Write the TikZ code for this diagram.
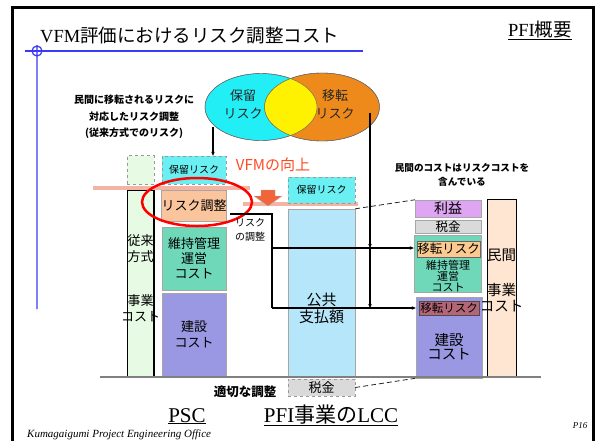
\documentclass[tikz,border=0pt]{standalone}
\usepackage{fontspec}
\setmainfont{Liberation Serif}
\newfontfamily\jp{Noto Sans CJK JP}
\usetikzlibrary{arrows.meta, shapes.geometric}

\definecolor{keepcyan}{HTML}{22EEF6}
\definecolor{xferorange}{HTML}{EE8A1C}
\definecolor{boxcyan}{HTML}{6AF0F2}
\definecolor{adjpeach}{HTML}{FAC49C}
\definecolor{omteal}{HTML}{6ED8B8}
\definecolor{buildblue}{HTML}{9A98E2}
\definecolor{paysky}{HTML}{B6E6FA}
\definecolor{oldgreen}{HTML}{E6FAE4}
\definecolor{taxgray}{HTML}{DADADA}
\definecolor{profitviolet}{HTML}{DEA6F2}
\definecolor{privpeach}{HTML}{FEE6D2}
\definecolor{xferpeach}{HTML}{FCCA90}
\definecolor{xfermauve}{HTML}{B46676}
\definecolor{bandsalmon}{HTML}{F4B4A4}
\definecolor{vfmred}{HTML}{FF4A22}
\definecolor{arroworange}{HTML}{F2643A}
\definecolor{ruleblue}{HTML}{3A3AF4}

\begin{document}
\begin{tikzpicture}[
    x=1pt, y=-1pt,
    cost_box/.style={draw=gray!70, inner sep=0pt, align=center, font=\jp\fontsize{13}{15}\selectfont},
    dash_box/.style={cost_box, dashed, draw=gray!80},
    label_style/.style={inner sep=0pt, align=center, font=\jp\fontsize{13}{15.5}\selectfont},
    note_style/.style={inner sep=0pt, align=center, font=\jp\bfseries\fontsize{10}{16.5}\selectfont},
    link_style/.style={line width=1.2pt, -{Stealth[length=4pt, width=3.5pt]}},
    band_style/.style={bandsalmon, line width=4pt},
    tie_style/.style={gray!30!black, thick, dash pattern=on 5pt off 3pt}
]
    \useasboundingbox (0,0) rectangle (599,440);

    % Frame and headings
    \draw[line width=3pt] (12,445) -- (12,7) -- (593,7) -- (593,445);
    \node[anchor=base west, inner sep=0pt, font=\fontsize{18.5}{20}\selectfont] (title) at (40,42) {VFM{\jp 評価におけるリスク調整コスト}};
    \node[anchor=base, inner sep=0pt, font=\fontsize{18.5}{20}\selectfont] (section) at (540,36) {\underline{PFI{\jp 概要}}};
    \draw[ruleblue, line width=1.5pt] (25,51) -- (363,51);
    \draw[ruleblue, line width=1.2pt] (37,51) circle [radius=5] (37,45) -- (37,309);

    % Risk ellipses
    \node[ellipse, draw=black!60, fill=keepcyan, minimum width=112pt, minimum height=67pt] (keepE) at (261,107) {};
    \node[ellipse, draw=black!60, fill=xferorange, minimum width=115pt, minimum height=68pt] (xferE) at (322,107) {};
    \begin{scope}
        \clip (keepE.center) ellipse [x radius=56, y radius=33.5];
        \fill[yellow] (xferE.center) ellipse [x radius=57.5, y radius=34];
    \end{scope}
    \draw[black!60] (keepE.center) ellipse [x radius=56, y radius=33.5];
    \draw[black!60] (xferE.center) ellipse [x radius=57.5, y radius=34];
    \node[label_style, text=black!85, font=\jp\fontsize{13}{18}\selectfont] (keepT) at (243,104) {保留\\リスク};
    \node[label_style, text=black!85, font=\jp\fontsize{13}{18}\selectfont] (xferT) at (335,104) {移転\\リスク};

    % Notes
    \node[note_style] (psc_note) at (134,117) {民間に移転されるリスクに\\対応したリスク調整\\(従来方式でのリスク)};
    \node[note_style, font=\jp\bfseries\fontsize{9.6}{14}\selectfont] (priv_note) at (462,175) {民間のコストはリスクコストを\\含んでいる};
    \node[label_style, text=vfmred, font=\jp\fontsize{15}{17}\selectfont] (vfm) at (273,165) {VFMの向上};

    % Levels
    \draw[band_style] (93,188) -- (250,188);
    \draw[band_style] (243,204) -- (358,204);
    \draw[gray!60, fill=arroworange] (261,190) -- (275,190) -- (275,196) -- (282,196) -- (268,206) -- (254,196) -- (261,196) -- cycle;

    % PSC
    \node[dash_box, fill=oldgreen, minimum width=27pt, minimum height=29pt] (old_top) at (140.5,170) {};
    \node[cost_box, draw=black, fill=oldgreen, minimum width=27pt, minimum height=186pt] (old_cost) at (140.5,283) {};
    \draw[line width=2.5pt] (old_cost.north east) -- (old_cost.south east);
    \node[label_style, font=\jp\fontsize{13}{15.5}\selectfont] (old_text) at (140.5,278) {従来\\方式\\[29pt]事業\\コスト};
    \node[dash_box, fill=boxcyan, minimum width=64pt, minimum height=28pt, font=\jp\fontsize{10}{12}\selectfont] (keep_a) at (194,170) {保留リスク};
    \node[cost_box, fill=adjpeach, minimum width=64pt, minimum height=31pt] (adj_a) at (194,205.5) {リスク調整};
    \node[cost_box, fill=omteal, minimum width=64pt, minimum height=63pt] (om_a) at (194,258.5) {維持管理\\運営\\コスト};
    \node[cost_box, fill=buildblue, minimum width=64pt, minimum height=83pt, font=\jp\fontsize{13}{16}\selectfont] (build_a) at (194,334.5) {建設\\コスト};
    \node[ellipse, draw=red, line width=2.5pt, minimum width=110pt, minimum height=48pt] (ring) at (197,202) {};

    % PFI LCC
    \node[dash_box, fill=boxcyan, minimum width=67pt, minimum height=26pt, font=\jp\fontsize{10}{12}\selectfont] (keep_b) at (321.5,190) {保留リスク};
    \node[cost_box, fill=paysky, minimum width=67pt, minimum height=168pt] (pay_b) at (321.5,293) {};
    \node[label_style, font=\jp\fontsize{15}{17}\selectfont] (pay_text) at (321.5,308.5) {公共\\支払額};
    \node[dash_box, fill=taxgray, minimum width=67pt, minimum height=17pt] (tax_b) at (321.5,387.5) {税金};

    % Private cost
    \node[cost_box, fill=profitviolet, minimum width=66pt, minimum height=17pt, font=\jp\fontsize{14}{15}\selectfont] (profit_c) at (448,208.5) {利益};
    \node[cost_box, fill=taxgray, minimum width=66pt, minimum height=13pt, font=\jp\fontsize{12.5}{14}\selectfont] (tax_c) at (448,226.5) {税金};
    \node[cost_box, fill=omteal, minimum width=67pt, minimum height=57pt] (om_c) at (447.5,263.5) {};
    \node[cost_box, draw=black!60, fill=xferpeach, minimum width=61pt, minimum height=16pt, font=\jp\fontsize{12.5}{14}\selectfont] (xfer_c) at (448.5,249) {移転リスク};
    \node[label_style, font=\jp\fontsize{11}{9}\selectfont] (om_text) at (448,276) {維持管理\\運営\\コスト};
    \node[cost_box, fill=buildblue, minimum width=66pt, minimum height=81pt] (build_c) at (449,337.5) {};
    \node[cost_box, draw=black!70, fill=xfermauve, minimum width=60pt, minimum height=14pt, font=\jp\fontsize{11.5}{13}\selectfont] (xfer_d) at (449,308.5) {移転リスク};
    \node[label_style, font=\jp\fontsize{14.5}{14}\selectfont] (build_text) at (449,347) {建設\\コスト};
    \node[cost_box, draw=black, thick, fill=privpeach, minimum width=29pt, minimum height=178pt] (priv_c) at (501.5,288) {};
    \node[label_style, font=\jp\fontsize{14.5}{16}\selectfont] (priv_text) at (501.5,280.5) {民間\\[19pt]事業\\コスト};

    % Coordinates
    \coordinate (adj_top) at (230,214);
    \coordinate (adj_corner) at (272,214);
    \coordinate (adj_mid) at (272,248);
    \coordinate (adj_low) at (272,308);
    \coordinate (keep_drop) at (213,127);
    \coordinate (xfer_drop) at (370,113);

    % Connectors
    \node[label_style, font=\jp\fontsize{10}{14}\selectfont, align=left] (adj_text) at (250,230) {リスク\\の調整};
    \draw[line width=1.2pt] (adj_top) -- (adj_corner) -- (adj_low);
    \draw[link_style] (adj_mid) -- (om_c.west |- adj_mid);
    \draw[link_style] (adj_low) -- (build_c.west |- adj_low);
    \draw[link_style] (keep_drop) -- (keep_a.north -| keep_drop);
    \draw[link_style] (xfer_drop) -- (xfer_drop |- adj_mid);
    \draw[link_style] (xfer_drop |- adj_mid) -- (xfer_drop |- adj_low);
    \draw[tie_style] (pay_b.north east) -- (profit_c.north west);
    \draw[tie_style] (tax_b.east) -- (build_c.south west);
    \draw[gray, line width=2pt] (100,377) -- (541,377);

    % Captions
    \node[note_style, font=\jp\bfseries\fontsize{12.5}{14}\selectfont] (fit_note) at (245,392) {適切な調整};
    \node[anchor=base, inner sep=0pt, font=\fontsize{21}{24}\selectfont] (psc_cap) at (187,422) {\underline{PSC}};
    \node[anchor=base, inner sep=0pt, font=\fontsize{21}{24}\selectfont] (lcc_cap) at (331,422) {\underline{PFI{\jp 事業の}LCC}};
    \node[anchor=base west, inner sep=0pt, font=\itshape\fontsize{11}{12}\selectfont] (office) at (27,437) {Kumagaigumi Project Engineering Office};
    \node[anchor=base, inner sep=0pt, font=\itshape\fontsize{9}{10}\selectfont] (page) at (580,428) {P16};
\end{tikzpicture}
\end{document}
